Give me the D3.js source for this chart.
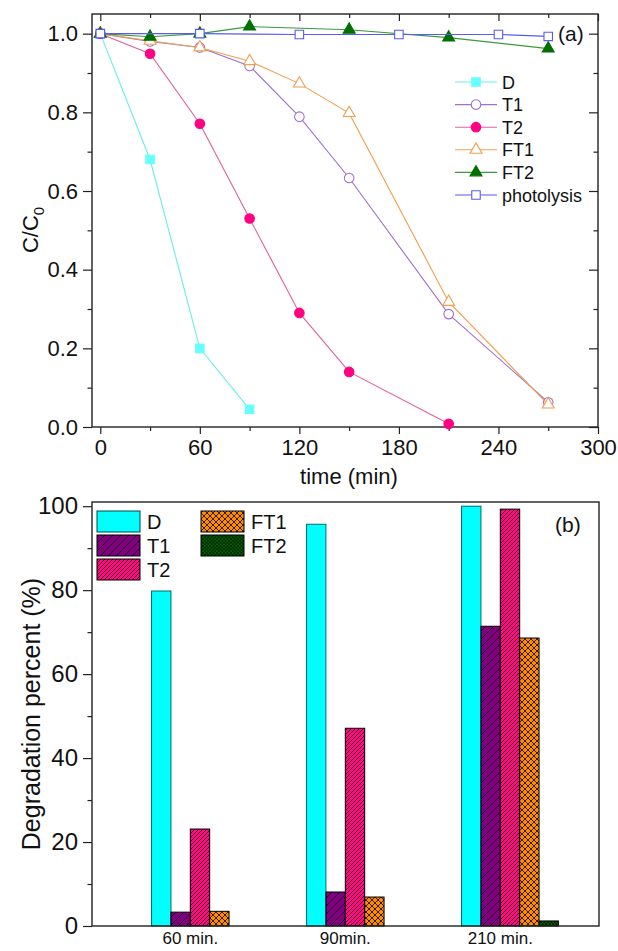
<!DOCTYPE html>
<html>
<head>
<meta charset="utf-8">
<script src="https://cdn.jsdelivr.net/npm/d3@7"></script>
<style>
  body { margin: 0; background: #fff; }
  svg { display: block; font-family: "Liberation Sans", Arial, sans-serif; }
</style>
</head>
<body>
<svg id="chart" width="618" height="951"></svg>
<script>
// ---- panel (a): C/C0 vs time ----
const dTime = [0, 30, 60, 90];
const dVal = [1.0, 0.68, 0.20, 0.045];
const t1Time = [0, 30, 60, 90, 120, 150, 210, 270];
const t1Val = [1.0, 0.98, 0.965, 0.918, 0.789, 0.633, 0.287, 0.063];
const t2Time = [0, 30, 60, 90, 120, 150, 210];
const t2Val = [1.0, 0.949, 0.771, 0.530, 0.290, 0.140, 0.008];
const ft1Time = [0, 30, 60, 90, 120, 150, 210, 270];
const ft1Val = [1.0, 0.982, 0.965, 0.930, 0.873, 0.798, 0.318, 0.057];
const ft2Time = [0, 30, 60, 90, 150, 210, 270];
const ft2Val = [1.0, 0.992, 1.0, 1.018, 1.01, 0.99, 0.962];
const photoTime = [0, 60, 120, 180, 240, 270];
const photoVal = [1.0, 1.0, 0.998, 0.998, 0.998, 0.993];

const xTicksA = [0, 60, 120, 180, 240, 300];
const yTicksA = [0, 0.2, 0.4, 0.6, 0.8, 1.0];

// ---- panel (b): degradation percent ----
const groups = ['60 min.', '90min.', '210 min.'];
const seriesB = ['D', 'T1', 'T2', 'FT1', 'FT2'];
const degD = [79.8, 95.7, 100];
const degT1 = [3.3, 8.1, 71.4];
const degT2 = [23.1, 47.1, 99.3];
const degFT1 = [3.5, 6.9, 68.6];
const degFT2 = [0, 0, 1.2];
const yTicksB = [0, 20, 40, 60, 80, 100];

const svg = d3.select('#chart');
const defs = svg.append('defs');

// hatch patterns for the bars
function hatch(id, bg, s, cross, sw) {
    const p = defs.append('pattern')
        .attr('id', id)
        .attr('patternUnits', 'userSpaceOnUse')
        .attr('width', s).attr('height', s);
    p.append('rect').attr('width', s).attr('height', s).attr('fill', bg);
    p.append('path')
        .attr('d', `M${-s},${s} L${s},${-s} M0,${s} L${s},0 M0,${2 * s} L${2 * s},0`)
        .attr('stroke', '#000').attr('stroke-width', sw);
    if (cross) {
        p.append('path')
            .attr('d', `M${-s},0 L${s},${2 * s} M0,0 L${s},${s} M0,${-s} L${2 * s},${s}`)
            .attr('stroke', '#000').attr('stroke-width', sw);
    }
}
hatch('hT1', '#800080', 8, false, 0.8);
hatch('hT2', '#ff0a80', 4, false, 0.7);
hatch('hFT1', '#ff8c00', 6, true, 0.8);
hatch('hFT2', '#006400', 3.5, true, 0.6);

const barFill = { D: '#00ffff', T1: 'url(#hT1)', T2: 'url(#hT2)', FT1: 'url(#hFT1)', FT2: 'url(#hFT2)' };
const barStroke = { D: '#006b6b', T1: '#000', T2: '#000', FT1: '#000', FT2: '#000' };

function styleAxis(g, size) {
    g.select('.domain').remove();
    g.selectAll('line').attr('stroke', '#222').attr('stroke-width', 1.2);
    g.selectAll('text').attr('font-size', size).attr('fill', '#111')
        .attr('font-family', '"Liberation Sans", Arial, sans-serif');
}

// ================= panel (a) =================
const A = { left: 92, right: 598, top: 14, bottom: 427 };
const xA = d3.scaleLinear().domain([-5, 300]).range([A.left, A.right]);
const yA = d3.scaleLinear().domain([0, 1.05]).range([A.bottom, A.top]);

const xMinorA = [30, 90, 150, 210, 270];
const yMinorA = [0.1, 0.3, 0.5, 0.7, 0.9];

svg.append('g').attr('transform', `translate(0,${A.bottom})`)
    .call(d3.axisBottom(xA).tickValues(xTicksA).tickSize(7).tickPadding(5).tickFormat(d3.format('d')))
    .call(g => styleAxis(g, 22));
svg.append('g').attr('transform', `translate(0,${A.bottom})`)
    .call(d3.axisBottom(xA).tickValues(xMinorA).tickSize(4).tickFormat(''))
    .call(g => styleAxis(g, 0));
svg.append('g').attr('transform', `translate(0,${A.top})`)
    .call(d3.axisTop(xA).tickValues(xTicksA).tickSize(-7).tickFormat(''))
    .call(g => styleAxis(g, 0));
svg.append('g').attr('transform', `translate(0,${A.top})`)
    .call(d3.axisTop(xA).tickValues(xMinorA).tickSize(-4).tickFormat(''))
    .call(g => styleAxis(g, 0));
svg.append('g').attr('transform', `translate(${A.left},0)`)
    .call(d3.axisLeft(yA).tickValues(yTicksA).tickSize(9).tickPadding(5).tickFormat(d3.format('.1f')))
    .call(g => styleAxis(g, 22));
svg.append('g').attr('transform', `translate(${A.left},0)`)
    .call(d3.axisLeft(yA).tickValues(yMinorA).tickSize(4.5).tickFormat(''))
    .call(g => styleAxis(g, 0));
svg.append('g').attr('transform', `translate(${A.right},0)`)
    .call(d3.axisRight(yA).tickValues(yTicksA).tickSize(-9).tickFormat(''))
    .call(g => styleAxis(g, 0));
svg.append('g').attr('transform', `translate(${A.right},0)`)
    .call(d3.axisRight(yA).tickValues(yMinorA).tickSize(-4.5).tickFormat(''))
    .call(g => styleAxis(g, 0));

svg.append('rect')
    .attr('x', A.left).attr('y', A.top)
    .attr('width', A.right - A.left).attr('height', A.bottom - A.top)
    .attr('fill', 'none').attr('stroke', '#222').attr('stroke-width', 1.4);

svg.append('text')
    .attr('x', 349).attr('y', 484)
    .attr('text-anchor', 'middle').attr('font-size', 22).attr('fill', '#111')
    .text('time (min)');

const yLabA = svg.append('text')
    .attr('transform', 'translate(38,230) rotate(-90)')
    .attr('text-anchor', 'middle').attr('font-size', 22).attr('fill', '#111');
yLabA.append('tspan').text('C/C');
yLabA.append('tspan').attr('font-size', 15).attr('dy', 6).text('0');

svg.append('text')
    .attr('x', 558).attr('y', 41)
    .attr('font-size', 21).attr('fill', '#111')
    .text('(a)');

const linesA = [
    { name: 'D', t: dTime, v: dVal, line: '#66eeee', sym: d3.symbolSquare, size: 72, fill: '#66ffff', stroke: '#66ffff' },
    { name: 'T1', t: t1Time, v: t1Val, line: '#a070c8', sym: d3.symbolCircle, size: 72, fill: '#fff', stroke: '#a070c8' },
    { name: 'T2', t: t2Time, v: t2Val, line: '#e0609a', sym: d3.symbolCircle, size: 72, fill: '#ff0080', stroke: '#ff0080' },
    { name: 'FT1', t: ft1Time, v: ft1Val, line: '#f0a050', sym: d3.symbolTriangle, size: 62, fill: '#fff', stroke: '#f0a050' },
    { name: 'FT2', t: ft2Time, v: ft2Val, line: '#3c9a3c', sym: d3.symbolTriangle, size: 62, fill: '#007000', stroke: '#007000' },
    { name: 'photolysis', t: photoTime, v: photoVal, line: '#5a5aee', sym: d3.symbolSquare, size: 72, fill: '#fff', stroke: '#5a5aee' }
];

const lineGen = d3.line().x(d => xA(d[0])).y(d => yA(d[1]));

linesA.forEach(s => {
    const pts = s.t.map((t, i) => [t, s.v[i]]);
    svg.append('path')
        .attr('d', lineGen(pts))
        .attr('fill', 'none').attr('stroke', s.line).attr('stroke-width', 1.1);
    svg.append('g').selectAll('path')
        .data(pts)
        .enter()
        .append('path')
        .attr('d', d3.symbol().type(s.sym).size(s.size))
        .attr('transform', d => `translate(${xA(d[0])},${yA(d[1])})`)
        .attr('fill', s.fill).attr('stroke', s.stroke).attr('stroke-width', 1.1);
});

// legend (a)
const legA = svg.append('g');
linesA.forEach((s, i) => {
    const y = 82 + i * 22.6;
    legA.append('line')
        .attr('x1', 455).attr('x2', 497).attr('y1', y).attr('y2', y)
        .attr('stroke', s.line).attr('stroke-width', 1.1);
    legA.append('path')
        .attr('d', d3.symbol().type(s.sym).size(s.size))
        .attr('transform', `translate(476,${y})`)
        .attr('fill', s.fill).attr('stroke', s.stroke).attr('stroke-width', 1.1);
    legA.append('text')
        .attr('x', 502).attr('y', y + 6.5)
        .attr('font-size', 18).attr('fill', '#111')
        .text(s.name);
});

// ================= panel (b) =================
const B = { left: 92, right: 599, top: 502, bottom: 926 };
const degBySeries = { D: degD, T1: degT1, T2: degT2, FT1: degFT1, FT2: degFT2 };

const xB = d3.scaleBand().domain(groups).range([122.5, 587.5]);
const xInner = d3.scaleBand().domain(seriesB).range([0, xB.bandwidth()]).paddingOuter(1.5);
const yB = d3.scaleLinear().domain([0, 101]).range([B.bottom, B.top]);

const barData = [];
groups.forEach((g, gi) => {
    seriesB.forEach(s => {
        barData.push({ group: g, series: s, value: degBySeries[s][gi] });
    });
});

svg.append('g').selectAll('rect')
    .data(barData.filter(d => d.value > 0))
    .enter()
    .append('rect')
    .attr('x', d => xB(d.group) + xInner(d.series))
    .attr('y', d => yB(d.value))
    .attr('width', xInner.bandwidth())
    .attr('height', d => yB(0) - yB(d.value))
    .attr('fill', d => barFill[d.series])
    .attr('stroke', d => barStroke[d.series])
    .attr('stroke-width', 1);

svg.append('g').attr('transform', `translate(${B.left},0)`)
    .call(d3.axisLeft(yB).tickValues(yTicksB).tickSize(9).tickPadding(5))
    .call(g => styleAxis(g, 24));
svg.append('g').attr('transform', `translate(${B.left},0)`)
    .call(d3.axisLeft(yB).tickValues([10, 30, 50, 70, 90]).tickSize(4.5).tickFormat(''))
    .call(g => styleAxis(g, 0));

svg.append('rect')
    .attr('x', B.left).attr('y', B.top)
    .attr('width', B.right - B.left).attr('height', B.bottom - B.top)
    .attr('fill', 'none').attr('stroke', '#222').attr('stroke-width', 1.4);

// group labels sit under the middle of the D..FT1 bars
svg.append('g').selectAll('text')
    .data(groups)
    .enter()
    .append('text')
    .attr('x', d => xB(d) + xInner('T2'))
    .attr('y', 944)
    .attr('text-anchor', 'middle').attr('font-size', 17).attr('fill', '#111')
    .text(d => d);

svg.append('text')
    .attr('transform', 'translate(40,714) rotate(-90)')
    .attr('text-anchor', 'middle').attr('font-size', 25).attr('fill', '#111')
    .text('Degradation percent (%)');

svg.append('text')
    .attr('x', 555).attr('y', 532)
    .attr('font-size', 21).attr('fill', '#111')
    .text('(b)');

// legend (b): two columns
const legB = svg.append('g');
seriesB.forEach((s, i) => {
    const col = i < 3 ? 0 : 1;
    const row = i < 3 ? i : i - 3;
    const x = col === 0 ? 97 : 201;
    const y = 511 + row * 24;
    legB.append('rect')
        .attr('x', x).attr('y', y).attr('width', 43).attr('height', 21)
        .attr('fill', barFill[s]).attr('stroke', s === 'D' ? '#004848' : '#000').attr('stroke-width', 1);
    legB.append('text')
        .attr('x', x + 50).attr('y', y + 17.5)
        .attr('font-size', 20).attr('fill', '#111')
        .text(s);
});
</script>
</body>
</html>
